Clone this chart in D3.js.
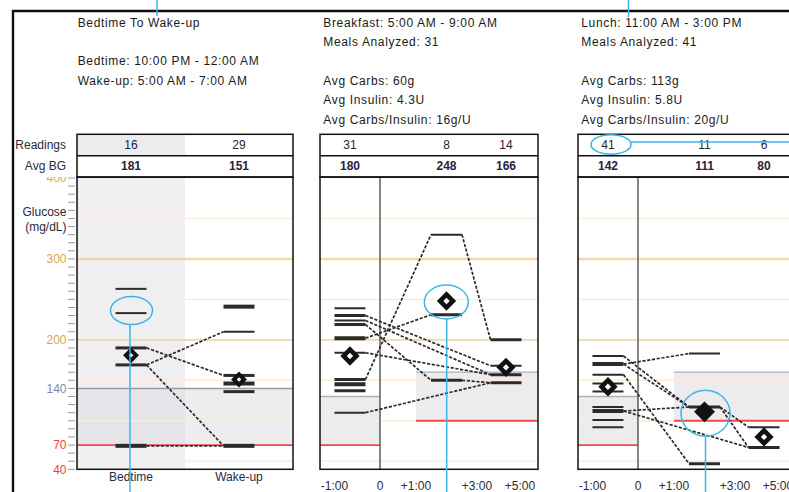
<!DOCTYPE html>
<html><head><meta charset="utf-8">
<script src="https://cdn.jsdelivr.net/npm/d3@7"></script>
<style>body{margin:0;background:#fff;} svg{display:block;font-family:"Liberation Sans",Arial,sans-serif;}</style>
</head><body>
<svg id="c" width="789" height="492"></svg>
<script>
// ---------- data ----------
const glucoseLabelTicks = [40, 70, 140, 200, 300, 400];
const guideLevels = [50, 100, 150, 200, 250, 300, 350];
const strongGuides = [200, 300];

// Panel 1 : bedtime -> wake-up
const p1Header = ["Bedtime To Wake-up", "", "Bedtime: 10:00 PM - 12:00 AM", "Wake-up: 5:00 AM - 7:00 AM"];
const p1Categories = ["Bedtime", "Wake-up"];
const p1Readings = [16, 29];
const p1AvgBG = [181, 151];
const p1BedtimeValues = [263, 233, 190, 169, 69];
const p1BedtimeCounts = [1, 1, 2, 2, 3];
const p1WakeValues = [241, 210, 156, 146, 136, 69];
const p1WakeCounts = [3, 1, 2, 3, 2, 3];
const p1Pairs = [[190, 156], [169, 210], [169, 69], [69, 69]];
const p1Target = [70, 140];

// Meal panels
const timeTickLabels = ["-1:00", "0", "+1:00", "+3:00", "+5:00"];
const timeTickValues = [-1, 0, 1, 3, 5];
const slotTimes = [-0.66, 2, 4.35];
const preTarget = [70, 130];
const postTarget = [100, 160];

// Panel 2 : breakfast
const p2Header = ["Breakfast: 5:00 AM - 9:00 AM", "Meals Analyzed: 31", "", "Avg Carbs: 60g", "Avg Insulin: 4.3U", "Avg Carbs/Insulin: 16g/U"];
const p2Readings = [31, 8, 14];
const p2AvgBG = [180, 248, 166];
const p2PreValues = [239, 230, 224, 219, 202, 184, 151, 145, 137, 110];
const p2PreCounts = [1, 2, 1, 2, 3, 1, 2, 3, 2, 1];
const p2MidValues = [330, 231, 150];
const p2MidCounts = [1, 2, 2];
const p2LastValues = [200, 168, 157, 147];
const p2LastCounts = [2, 1, 2, 2];
const p2Paths = [[151, 330, 200], [202, 231, null], [230, null, 168], [224, null, 157], [219, 150, 147], [184, null, 157], [110, null, 147]];
const p2Highlight = [false, false, false];

// Panel 3 : lunch
const p3Header = ["Lunch: 11:00 AM - 3:00 PM", "Meals Analyzed: 41", "", "Avg Carbs: 113g", "Avg Insulin: 5.8U", "Avg Carbs/Insulin: 20g/U"];
const p3Readings = [41, 11, 6];
const p3AvgBG = [142, 111, 80];
const p3PreValues = [180, 170, 157, 146, 136, 117, 112, 101, 92];
const p3PreCounts = [1, 3, 1, 1, 1, 1, 3, 1, 1];
const p3MidValues = [183, 117, 47];
const p3MidCounts = [1, 2, 2];
const p3LastValues = [92, 67];
const p3LastCounts = [1, 2];
const p3Paths = [[170, 183, null], [180, 117, 92], [170, 117, 67], [157, 47, null], [112, 117, null], [112, null, 67]];
const p3Highlight = [false, true, false];

// ---------- layout ----------
const svg = d3.select("#c");
const tableTop = 134.3, rowH = 21.4, plotTop = 177, plotBottom = 469.3;
const halfDash = 15.5;
const y = d3.scaleLinear().domain([40, 400]).range([469.3, 178]);
const widthByCount = d3.scaleLinear().domain([1, 3]).range([2, 4]);
const textColor = "#1a1a1a";
const blue = "#3db4ea";

function header(x0, lines) {
  svg.append("g").selectAll("text").data(lines).join("text")
    .attr("x", x0).attr("y", (d, i) => 26.6 + i * 19.4)
    .attr("font-size", 12).attr("letter-spacing", 0.65).attr("fill", textColor)
    .text(d => d);
}

function guides(g, x0, x1) {
  g.append("g").selectAll("line").data(guideLevels).join("line")
    .attr("x1", x0).attr("x2", x1).attr("y1", d => y(d)).attr("y2", d => y(d))
    .attr("stroke", d => strongGuides.includes(d) ? "#f5d6ab" : "#fcecd8")
    .attr("stroke-width", d => d === 300 ? 2.5 : strongGuides.includes(d) ? 1.7 : 1.5);
}

function dashes(g, xc, values, counts) {
  g.append("g").selectAll("line").data(values.map((v, i) => ({ v, c: counts[i] }))).join("line")
    .attr("x1", xc - halfDash).attr("x2", xc + halfDash)
    .attr("y1", d => y(d.v)).attr("y2", d => y(d.v))
    .attr("stroke", "#2b2b2b").attr("stroke-width", d => widthByCount(d.c));
}

function connectors(g, slotX, paths) {
  const segs = [];
  paths.forEach(p => {
    const pts = p.map((v, i) => v == null ? null : { i, v }).filter(d => d);
    for (let k = 1; k < pts.length; k++) {
      segs.push([[slotX[pts[k - 1].i] + halfDash, y(pts[k - 1].v)], [slotX[pts[k].i] - halfDash, y(pts[k].v)]]);
    }
  });
  g.append("g").selectAll("line").data(segs).join("line")
    .attr("x1", d => d[0][0]).attr("y1", d => d[0][1])
    .attr("x2", d => d[1][0]).attr("y2", d => d[1][1])
    .attr("stroke", "#2b2b2b").attr("stroke-width", 1.7).attr("stroke-dasharray", "3.2,1.6");
}

function diamonds(g, slotX, avgs, highlight, small) {
  const sym = d3.symbol().type(d3.symbolSquare);
  g.append("g").selectAll("path").data(avgs.map((v, i) => ({ v, x: slotX[i], h: highlight[i] }))).join("path")
    .attr("d", d => sym.size(d.h ? 190 : (small ? 52 : 82))())
    .attr("transform", d => `translate(${d.x},${y(d.v)}) rotate(45)`)
    .attr("fill", d => d.h ? "#111" : "#fff")
    .attr("stroke", "#111").attr("stroke-width", d => d.h ? 1 : (small ? 4 : 4.6));
}

function table(x0, x1, slotX, readings, avgs, shadeBand) {
  const g = svg.append("g");
  if (shadeBand) g.append("rect").attr("x", shadeBand[0]).attr("y", tableTop).attr("width", shadeBand[1] - shadeBand[0]).attr("height", rowH).attr("fill", "#ececef");
  g.append("rect").attr("x", x0).attr("y", tableTop).attr("width", x1 - x0).attr("height", rowH * 2)
    .attr("fill", "none").attr("stroke", "#111").attr("stroke-width", 1.5);
  g.append("line").attr("x1", x0).attr("x2", x1).attr("y1", tableTop + rowH).attr("y2", tableTop + rowH).attr("stroke", "#111").attr("stroke-width", 1.5);
  g.selectAll("text.r").data(readings).join("text").attr("class", "r")
    .attr("x", (d, i) => slotX[i]).attr("y", tableTop + 14.2).attr("text-anchor", "middle")
    .attr("font-size", 12).attr("fill", "#2a2238").text(d => d);
  g.selectAll("text.a").data(avgs).join("text").attr("class", "a")
    .attr("x", (d, i) => slotX[i]).attr("y", tableTop + rowH + 14.6).attr("text-anchor", "middle")
    .attr("font-size", 12).attr("font-weight", "bold").attr("fill", "#2a2238").text(d => d);
}

// ---------- panel 1 ----------
(function () {
  const x0 = 77, x1 = 293;
  header(77.7, p1Header);
  const xb = d3.scaleBand().domain(p1Categories).range([x0, x1]);
  const slotX = p1Categories.map(c => xb(c) + xb.bandwidth() / 2);
  const g = svg.append("g");
  g.append("rect").attr("x", xb("Bedtime")).attr("y", plotTop).attr("width", xb.bandwidth()).attr("height", plotBottom - plotTop).attr("fill", "#efeff2");
  g.append("rect").attr("x", x0).attr("y", y(p1Target[1])).attr("width", x1 - x0).attr("height", y(p1Target[0]) - y(p1Target[1]))
    .attr("fill", "#d6d6dd").attr("fill-opacity", 0.45);
  guides(g, x0, x1);
  g.append("line").attr("x1", x0).attr("x2", x1).attr("y1", y(p1Target[1])).attr("y2", y(p1Target[1])).attr("stroke", "#9a9a9a").attr("stroke-width", 1.5);
  g.append("line").attr("x1", x0).attr("x2", x1).attr("y1", y(p1Target[0])).attr("y2", y(p1Target[0])).attr("stroke", "#f04848").attr("stroke-width", 1.8);
  connectors(g, slotX, p1Pairs);
  dashes(g, slotX[0], p1BedtimeValues, p1BedtimeCounts);
  dashes(g, slotX[1], p1WakeValues, p1WakeCounts);
  diamonds(g, slotX, p1AvgBG, [false, false], true);
  g.append("rect").attr("x", x0).attr("y", plotTop).attr("width", x1 - x0).attr("height", plotBottom - plotTop).attr("fill", "none").attr("stroke", "#111").attr("stroke-width", 1.5);
  table(x0, x1, slotX, p1Readings, p1AvgBG, [xb("Bedtime"), xb("Bedtime") + xb.bandwidth()]);
  // x labels
  g.selectAll("text.xl").data(p1Categories).join("text").attr("class", "xl")
    .attr("x", d => xb(d) + xb.bandwidth() / 2).attr("y", 481).attr("text-anchor", "middle")
    .attr("font-size", 12).attr("fill", "#2a2a3a").text(d => d);
  // y axis
  svg.append("clipPath").attr("id", "axclip").append("rect").attr("x", 0).attr("y", 177).attr("width", 77).attr("height", 300);
  const ax = svg.append("g").attr("clip-path", "url(#axclip)");
  ax.selectAll("line").data(d3.range(40, 401, 10)).join("line")
    .attr("x1", 68).attr("x2", 75).attr("y1", d => y(d)).attr("y2", d => y(d)).attr("stroke", "#999").attr("stroke-width", 1);
  const labColor = v => v <= 70 ? "#ee3f3f" : v === 140 ? "#7f8aa6" : "#e0a450";
  ax.selectAll("text").data(glucoseLabelTicks).join("text")
    .attr("x", 66.5).attr("y", d => y(d) + 4.3).attr("text-anchor", "end")
    .attr("font-size", 12).attr("fill", labColor).text(d => d);
  const lab = svg.append("g").attr("font-size", 12).attr("fill", "#2a2a3a").attr("text-anchor", "end");
  lab.append("text").attr("x", 66).attr("y", 148.5).text("Readings");
  lab.append("text").attr("x", 66).attr("y", 169.5).text("Avg BG");
  lab.append("text").attr("x", 66.5).attr("y", 216).text("Glucose");
  lab.append("text").attr("x", 66.5).attr("y", 231).text("(mg/dL)");
})();

// ---------- meal panels ----------
function mealPanel(x0, x1, headerLines, readings, avgs, preV, preC, midV, midC, lastV, lastC, paths, highlight) {
  header(x0 + 3.3, headerLines);
  const off = [14.5, 60, 96, 157, 200];
  const xt = d3.scaleLinear().domain(timeTickValues).range(off.map(o => x0 + o));
  const slotX = slotTimes.map(t => xt(t));
  const g = svg.append("g");
  const clipId = "clip" + Math.round(x0);
  g.append("clipPath").attr("id", clipId).append("rect").attr("x", x0).attr("y", plotTop).attr("width", x1 - x0).attr("height", plotBottom - plotTop);
  const gi = g.append("g").attr("clip-path", `url(#${clipId})`);
  gi.append("rect").attr("x", x0).attr("y", y(preTarget[1])).attr("width", xt(0) - x0).attr("height", y(preTarget[0]) - y(preTarget[1])).attr("fill", "#ececef");
  gi.append("rect").attr("x", xt(1)).attr("y", y(postTarget[1])).attr("width", x1 - xt(1)).attr("height", y(postTarget[0]) - y(postTarget[1])).attr("fill", "#ececef");
  guides(gi, x0, x1);
  gi.append("line").attr("x1", x0).attr("x2", xt(0)).attr("y1", y(preTarget[1])).attr("y2", y(preTarget[1])).attr("stroke", "#b0b0b4").attr("stroke-width", 1.3);
  gi.append("line").attr("x1", xt(1)).attr("x2", x1).attr("y1", y(postTarget[1])).attr("y2", y(postTarget[1])).attr("stroke", "#b0b0b4").attr("stroke-width", 1.3);
  gi.append("line").attr("x1", x0).attr("x2", xt(0)).attr("y1", y(preTarget[0])).attr("y2", y(preTarget[0])).attr("stroke", "#f04848").attr("stroke-width", 1.8);
  gi.append("line").attr("x1", xt(1)).attr("x2", x1).attr("y1", y(postTarget[0])).attr("y2", y(postTarget[0])).attr("stroke", "#f04848").attr("stroke-width", 1.8);
  gi.append("line").attr("x1", xt(0)).attr("x2", xt(0)).attr("y1", plotTop).attr("y2", plotBottom).attr("stroke", "#666").attr("stroke-width", 1.6);
  connectors(gi, slotX, paths);
  dashes(gi, slotX[0], preV, preC);
  dashes(gi, slotX[1], midV, midC);
  dashes(gi, slotX[2], lastV, lastC);
  diamonds(gi, slotX, avgs, highlight, false);
  g.append("rect").attr("x", x0).attr("y", plotTop).attr("width", x1 - x0).attr("height", plotBottom - plotTop).attr("fill", "none").attr("stroke", "#111").attr("stroke-width", 1.5);
  table(x0, x1, slotX, readings, avgs, null);
  g.selectAll("text.tl").data(timeTickValues).join("text").attr("class", "tl")
    .attr("x", d => xt(d)).attr("y", 489.5).attr("text-anchor", "middle")
    .attr("font-size", 12).attr("fill", "#2a2a3a").text((d, i) => timeTickLabels[i]);
}
mealPanel(320, 538, p2Header, p2Readings, p2AvgBG, p2PreValues, p2PreCounts, p2MidValues, p2MidCounts, p2LastValues, p2LastCounts, p2Paths, p2Highlight);
mealPanel(578, 796, p3Header, p3Readings, p3AvgBG, p3PreValues, p3PreCounts, p3MidValues, p3MidCounts, p3LastValues, p3LastCounts, p3Paths, p3Highlight);

// ---------- outer frame ----------
svg.append("path").attr("d", "M13,492 V11 H789").attr("fill", "none").attr("stroke", "#111").attr("stroke-width", 2.4);

// ---------- callouts ----------
const co = svg.append("g").attr("fill", "none").attr("stroke", blue).attr("stroke-width", 1.5);
co.append("line").attr("x1", 157).attr("x2", 157).attr("y1", 0).attr("y2", 16);
co.append("line").attr("x1", 628.5).attr("x2", 628.5).attr("y1", 0).attr("y2", 17);
co.append("ellipse").attr("cx", 131.5).attr("cy", 310.5).attr("rx", 21).attr("ry", 14);
co.append("line").attr("x1", 130).attr("x2", 130).attr("y1", 324.5).attr("y2", 492);
co.append("ellipse").attr("cx", 446.3).attr("cy", 302).attr("rx", 22).attr("ry", 17);
co.append("line").attr("x1", 446.7).attr("x2", 446.7).attr("y1", 319).attr("y2", 492);
co.append("ellipse").attr("cx", 611).attr("cy", 144.5).attr("rx", 20).attr("ry", 9.7);
co.append("line").attr("x1", 631).attr("x2", 789).attr("y1", 142).attr("y2", 142);
co.append("ellipse").attr("cx", 705.5).attr("cy", 413.3).attr("rx", 24.5).attr("ry", 23);
co.append("line").attr("x1", 705.5).attr("x2", 705.5).attr("y1", 436.3).attr("y2", 492);
</script>
</body></html>
